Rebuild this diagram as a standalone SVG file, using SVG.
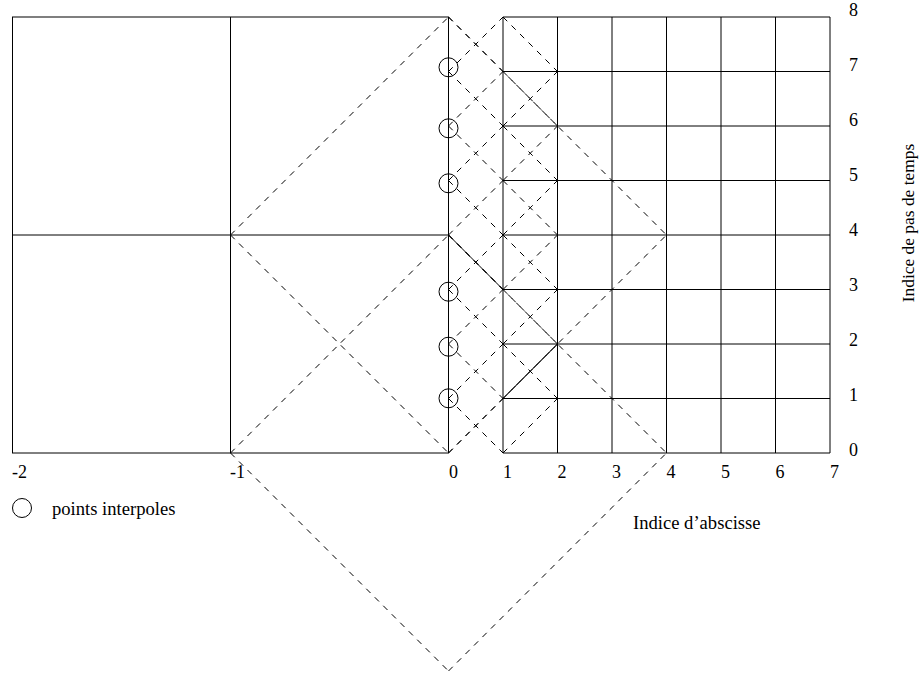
<svg xmlns="http://www.w3.org/2000/svg" width="920" height="677" viewBox="0 0 920 677">
<style>
  .grid { stroke: #000; stroke-width: 1; fill: none; }
  .dash { stroke: #000; stroke-width: 1; fill: none; stroke-dasharray: 6 6; }
  .solid { stroke: #000; stroke-width: 1; fill: none; }
  .pt { stroke: #000; stroke-width: 1; fill: none; }
  text { font-family: "Liberation Serif", "Times New Roman", serif; font-size: 18px; fill: #000; }
  .title { font-size: 18.6px; }
  .vtitle { font-size: 17.4px; }
</style>
<rect width="920" height="677" fill="#fff"/>

<g id="coarse-grid" class="grid">
  <rect x="12.5" y="17" width="436" height="436"/>
  <line x1="230.5" y1="17" x2="230.5" y2="453"/>
  <line x1="12.5" y1="235" x2="448.5" y2="235"/>
</g>

<g id="fine-grid" class="grid">
  <line x1="503" y1="17" x2="830" y2="17"/>
  <line x1="503" y1="71.5" x2="830" y2="71.5"/>
  <line x1="503" y1="126" x2="830" y2="126"/>
  <line x1="503" y1="180.5" x2="830" y2="180.5"/>
  <line x1="503" y1="235" x2="830" y2="235"/>
  <line x1="503" y1="289.5" x2="830" y2="289.5"/>
  <line x1="503" y1="344" x2="830" y2="344"/>
  <line x1="503" y1="398.5" x2="830" y2="398.5"/>
  <line x1="503" y1="453" x2="830" y2="453"/>
  <line x1="503" y1="17" x2="503" y2="453"/>
  <line x1="557.5" y1="17" x2="557.5" y2="453"/>
  <line x1="612" y1="17" x2="612" y2="453"/>
  <line x1="666.5" y1="17" x2="666.5" y2="453"/>
  <line x1="721" y1="17" x2="721" y2="453"/>
  <line x1="775.5" y1="17" x2="775.5" y2="453"/>
  <line x1="830" y1="17" x2="830" y2="453"/>
</g>

<g id="connectors">
  <g id="characteristics" class="dash">
    <line x1="230.5" y1="235" x2="448.5" y2="17"/>
    <line x1="448.5" y1="17" x2="666.5" y2="235"/>
    <line x1="448.5" y1="453" x2="666.5" y2="235"/>
    <line x1="230.5" y1="235" x2="448.5" y2="453"/>
    <line x1="230.5" y1="453" x2="448.5" y2="235"/>
    <line x1="448.5" y1="235" x2="666.5" y2="453"/>
    <line x1="230.5" y1="453" x2="448.5" y2="671"/>
    <line x1="448.5" y1="671" x2="666.5" y2="453"/>
  </g>
  <g id="lattice" class="dash">
    <line x1="448.5" y1="453" x2="503" y2="398.5"/>
    <line x1="448.5" y1="398.5" x2="503" y2="344"/>
    <line x1="448.5" y1="344" x2="503" y2="289.5"/>
    <line x1="448.5" y1="289.5" x2="503" y2="235"/>
    <line x1="448.5" y1="235" x2="503" y2="180.5"/>
    <line x1="448.5" y1="180.5" x2="503" y2="126"/>
    <line x1="448.5" y1="126" x2="503" y2="71.5"/>
    <line x1="448.5" y1="71.5" x2="503" y2="17"/>
    <line x1="448.5" y1="398.5" x2="503" y2="453"/>
    <line x1="448.5" y1="344" x2="503" y2="398.5"/>
    <line x1="448.5" y1="289.5" x2="503" y2="344"/>
    <line x1="448.5" y1="235" x2="503" y2="289.5"/>
    <line x1="448.5" y1="180.5" x2="503" y2="235"/>
    <line x1="448.5" y1="126" x2="503" y2="180.5"/>
    <line x1="448.5" y1="71.5" x2="503" y2="126"/>
    <line x1="448.5" y1="17" x2="503" y2="71.5"/>
    <line x1="503" y1="453" x2="557.5" y2="398.5"/>
    <line x1="503" y1="398.5" x2="557.5" y2="344"/>
    <line x1="503" y1="344" x2="557.5" y2="289.5"/>
    <line x1="503" y1="289.5" x2="557.5" y2="235"/>
    <line x1="503" y1="235" x2="557.5" y2="180.5"/>
    <line x1="503" y1="180.5" x2="557.5" y2="126"/>
    <line x1="503" y1="126" x2="557.5" y2="71.5"/>
    <line x1="503" y1="344" x2="557.5" y2="398.5"/>
    <line x1="503" y1="289.5" x2="557.5" y2="344"/>
    <line x1="503" y1="235" x2="557.5" y2="289.5"/>
    <line x1="503" y1="180.5" x2="557.5" y2="235"/>
    <line x1="503" y1="126" x2="557.5" y2="180.5"/>
    <line x1="503" y1="71.5" x2="557.5" y2="126"/>
    <line x1="503" y1="17" x2="557.5" y2="71.5"/>
  </g>
  <g id="solid-segments" class="solid">
    <line x1="448.5" y1="235" x2="503" y2="289.5"/>
    <line x1="503" y1="398.5" x2="557.5" y2="344"/>
  </g>
</g>

<g id="interpolated-points" class="pt">
  <circle cx="448.5" cy="67.3" r="9.5"/>
  <circle cx="448.5" cy="128.3" r="9.5"/>
  <circle cx="448.5" cy="183.3" r="9.5"/>
  <circle cx="448.5" cy="291.7" r="9.5"/>
  <circle cx="448.5" cy="346.7" r="9.5"/>
  <circle cx="448.5" cy="398.3" r="9.5"/>
</g>

<g id="x-axis-labels">
  <text x="12" y="478">-2</text>
  <text x="230" y="478">-1</text>
  <text x="449" y="478">0</text>
  <text x="503" y="478">1</text>
  <text x="557.5" y="478">2</text>
  <text x="612" y="478">3</text>
  <text x="666.5" y="478">4</text>
  <text x="721" y="478">5</text>
  <text x="775.5" y="478">6</text>
  <text x="830" y="478">7</text>
</g>

<g id="y-axis-labels">
  <text x="849" y="16">8</text>
  <text x="849" y="71">7</text>
  <text x="849" y="126">6</text>
  <text x="849" y="181">5</text>
  <text x="849" y="236">4</text>
  <text x="849" y="291">3</text>
  <text x="849" y="346">2</text>
  <text x="849" y="401">1</text>
  <text x="849" y="456">0</text>
</g>

<g id="axis-titles">
  <text class="title" x="633" y="529">Indice d’abscisse</text>
  <text class="vtitle" transform="translate(914,223) rotate(-90)" text-anchor="middle">Indice de pas de temps</text>
</g>

<g id="legend">
  <circle class="pt" cx="22" cy="508" r="9.5"/>
  <text class="title" x="52" y="515">points interpoles</text>
</g>
</svg>
